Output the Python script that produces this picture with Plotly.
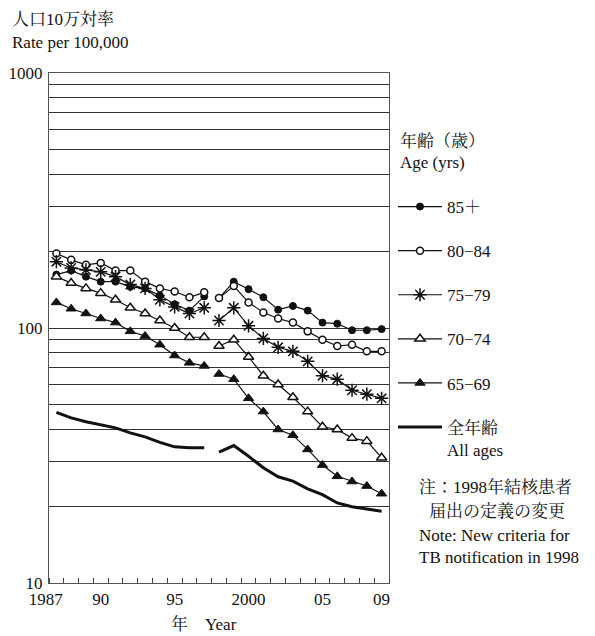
import plotly.graph_objects as go

# ---------------- data ----------------
YEARS = list(range(1987, 2010))
BREAK_YEAR = 1998  # new TB notification criteria

AGE_85_PLUS = [162, 168, 159, 152, 152, 145, 143, 134, 124, 117, 133,
               131, 152, 142, 132, 118, 122, 117, 105, 104, 98, 98, 99]
AGE_80_84 = [196, 185, 177, 180, 168, 168, 152, 143, 139, 132, 138,
             131, 146, 126, 115, 109, 105, 97, 90, 85, 86, 81, 81]
AGE_75_79 = [182, 172, 169, 166, 159, 148, 143, 129, 121, 114, 120,
             107, 120, 102, 91, 84, 81, 74, 65, 63, 57, 55, 53]
AGE_70_74 = [159, 150, 143, 137, 129, 120, 114, 107, 100, 92, 92,
             85, 90, 77, 65, 60, 53.5, 47, 41, 40, 37, 36, 31]
AGE_65_69 = [126, 119, 114, 109, 105, 97, 93, 86, 78, 73, 71,
             66, 63, 53, 47, 40, 38, 33.4, 29, 26.2, 25, 24, 22.4]
ALL_AGES = [46.7, 44.4, 42.9, 41.8, 40.6, 38.8, 37.4, 35.6, 34.2, 33.9, 33.9,
            32.6, 34.6, 31.4, 28.3, 26.1, 25.1, 23.4, 22.2, 20.6, 19.9, 19.5, 19.1]

SERIES_NAMES = ["85＋", "80−84", "75−79", "70−74", "65−69", "全年齢<br>All ages"]
X_TICK_VALS = [1987, 1990, 1995, 2000, 2005, 2009]
X_TICK_TEXT = ["1987\u00a0\u00a0\u00a0\u00a0\u00a0", "90", "95", "2000", "05", "09"]
Y_GRID_VALS = [10, 20, 30, 40, 50, 60, 70, 80, 90,
               100, 200, 300, 400, 500, 600, 700, 800, 900, 1000]
Y_LABELED = [10, 100, 1000]

# ---------------- styling ----------------
OFF = 8                       # default page (body) margin
W, H = 595 - OFF, 636 - OFF
# desired plot box in window pixels: x 49..389, y 73..583
L = 49 - OFF
T = 73 - OFF
R = W - (389 - OFF)
B = H - (583 - OFF)
FONT = "Liberation Serif, 'Noto Serif CJK JP', 'Noto Sans CJK JP', serif"
FS = 17
INK = "#111111"

styles = [
    dict(symbol="circle", size=7, color=INK, line=dict(color=INK, width=1)),
    dict(symbol="circle", size=7, color="white", line=dict(color=INK, width=1.5)),
    dict(symbol="asterisk-open", size=11, color=INK, line=dict(color=INK, width=1.5)),
    dict(symbol="triangle-up", size=9, color="white", line=dict(color=INK, width=1.5)),
    dict(symbol="triangle-up", size=9, color=INK, line=dict(color=INK, width=1)),
]
series = [AGE_85_PLUS, AGE_80_84, AGE_75_79, AGE_70_74, AGE_65_69]

fig = go.Figure()


def split(vals):
    a = [(x, v) for x, v in zip(YEARS, vals) if x < BREAK_YEAR]
    b = [(x, v) for x, v in zip(YEARS, vals) if x >= BREAK_YEAR]
    return a, b


for i, (vals, mk) in enumerate(zip(series, styles)):
    for j, seg in enumerate(split(vals)):
        fig.add_trace(go.Scatter(
            x=[p[0] for p in seg], y=[p[1] for p in seg],
            mode="lines+markers", name=SERIES_NAMES[i],
            legendgroup=f"g{i}", showlegend=(j == 0),
            line=dict(color=INK, width=1.2), marker=mk,
        ))

for j, seg in enumerate(split(ALL_AGES)):
    fig.add_trace(go.Scatter(
        x=[p[0] for p in seg], y=[p[1] for p in seg],
        mode="lines", name=SERIES_NAMES[5],
        legendgroup="g5", showlegend=(j == 0),
        line=dict(color=INK, width=3),
    ))

plot_w = W - L - R
plot_h = H - T - B


def px(x):
    """window pixel x -> paper coordinate"""
    return (x - OFF - L) / plot_w


def py(y):
    """window pixel y -> paper coordinate"""
    return (H - B - (y - OFF)) / plot_h


def note(text, x, y, anchor="left"):
    return dict(text=text, x=px(x), y=py(y), xref="paper", yref="paper",
                xanchor=anchor, yanchor="middle", showarrow=False,
                font=dict(family=FONT, size=FS, color=INK))


annotations = [
    note("人口10万対率", 10, 20),
    note("Rate per 100,000", 10, 43),
    note("年齢（歳）", 398, 141),
    note("Age (yrs)", 398, 162),
    note("注：1998年結核患者", 417, 487),
    note("届出の定義の変更", 427, 511),
    note("Note: New criteria for", 417, 535),
    note("TB notification in 1998", 417, 557),
    note("年　Year", 204, 624, anchor="center"),
]

fig.update_layout(
    width=W, height=H,
    margin=dict(l=L, r=R, t=T, b=B, pad=0, autoexpand=False),
    paper_bgcolor="white", plot_bgcolor="white",
    font=dict(family=FONT, size=FS, color=INK),
    showlegend=True,
    legend=dict(
        x=px(393), y=py(189), xanchor="left", yanchor="top",
        bgcolor="rgba(0,0,0,0)", borderwidth=0,
        font=dict(family=FONT, size=FS, color=INK),
        tracegroupgap=19, itemwidth=44, valign="top",
        traceorder="grouped",
    ),
    annotations=annotations,
    xaxis=dict(
        range=[1986.5, 2009.5],
        tickmode="array", tickvals=X_TICK_VALS, ticktext=X_TICK_TEXT,
        ticks="", showgrid=False, zeroline=False,
        showline=True, linecolor="#555555", linewidth=1.3, mirror=True,
        tickfont=dict(family=FONT, size=FS, color=INK),
        minor=dict(tick0=1987.5, dtick=1, ticks="inside", ticklen=5,
                   tickcolor="#444444", tickwidth=1, showgrid=False),
    ),
    yaxis=dict(
        type="log", range=[1, 3],
        tickmode="array", tickvals=Y_GRID_VALS,
        ticktext=[str(v) if v in Y_LABELED else "" for v in Y_GRID_VALS],
        ticks="", showgrid=True, gridcolor="#333333", gridwidth=1,
        zeroline=False,
        showline=True, linecolor="#555555", linewidth=1.3, mirror=True,
        tickfont=dict(family=FONT, size=FS, color=INK),
        ticklabelstandoff=2,
    ),
)

fig.write_html("out.html")
